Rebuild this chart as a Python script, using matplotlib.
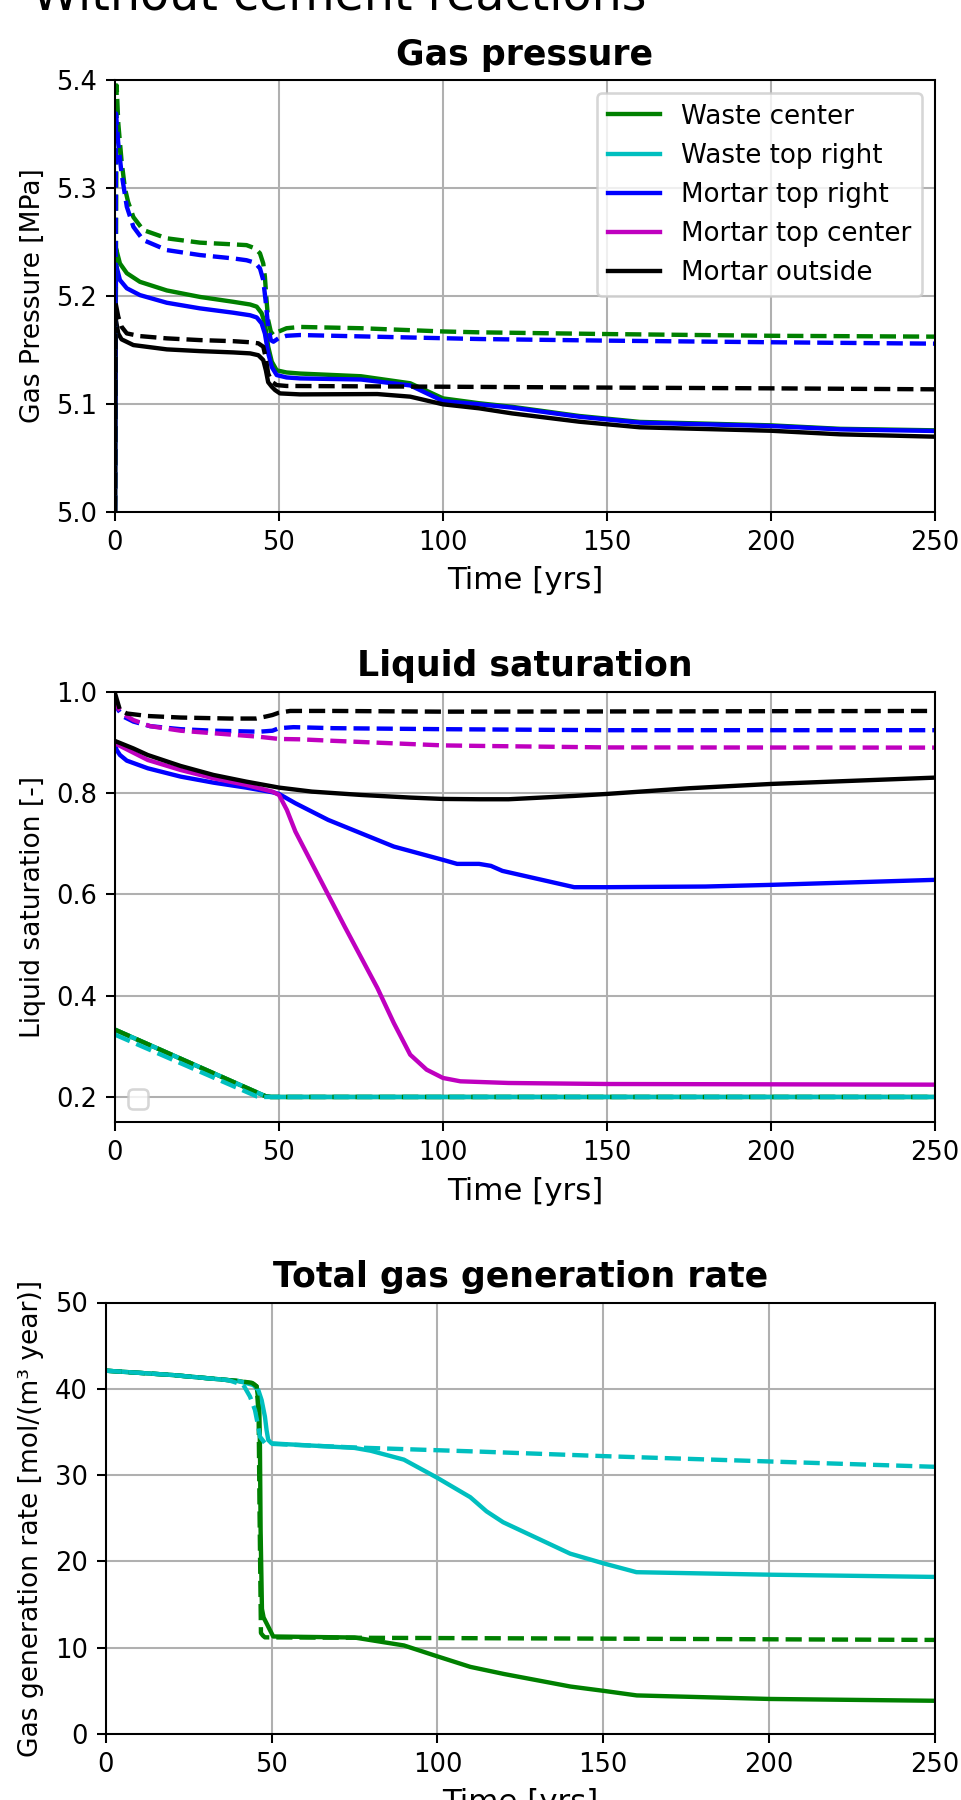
import matplotlib
matplotlib.use('Agg')
from matplotlib import pyplot as plt

# ---- Gas pressure [MPa] (solid = reference case, dashed = second case) ----
t_p_wc = [0, 0.3, 1.5, 3.6, 7.6, 15.8, 25.9, 36, 41.2, 43.2, 44.7, 45.7, 46.7, 47.8, 49.3,
          52.3, 56.4, 75, 90, 100, 111, 121, 141.5, 160, 200, 221, 250]
p_wc = [5.0, 5.244, 5.230, 5.221, 5.213, 5.205, 5.199, 5.1945, 5.192, 5.19, 5.184, 5.1745, 5.153,
        5.139, 5.131, 5.129, 5.128, 5.1255, 5.119, 5.105, 5.1005, 5.0972, 5.0887, 5.0832, 5.0800,
        5.0768, 5.0754]
t_p_mtr = t_p_wc
p_mtr = [5.0, 5.229, 5.2147, 5.207, 5.2007, 5.1936, 5.1884, 5.1844, 5.182, 5.18, 5.1745, 5.165,
         5.147, 5.134, 5.1266, 5.1244, 5.1235, 5.1225, 5.117, 5.1025, 5.0995, 5.0965, 5.088, 5.0825,
         5.0794, 5.0763, 5.0748]
t_p_mo = [0, 0.1, 1, 2, 5.6, 15.8, 25.9, 36, 41.2, 43.7, 45.2, 46, 46.7, 47.8, 48.8, 50.3, 56.4,
          80, 90, 100, 111, 121, 141.5, 160, 200, 221, 250]
p_mo = [5.0, 5.1806, 5.165, 5.1597, 5.1544, 5.1504, 5.1488, 5.1476, 5.1467, 5.145, 5.1405, 5.131,
        5.120, 5.1158, 5.1127, 5.1096, 5.1087, 5.109, 5.1066, 5.0995, 5.0958, 5.0911, 5.0834,
        5.0782, 5.075, 5.0717, 5.0695]

t_p_wc2 = [0, 0.5, 1, 2, 3, 4, 5.6, 8.6, 15.8, 25.9, 36, 40.1, 42.7, 44.2, 45.2, 45.7, 46.2, 46.7,
           47.5, 48.3, 49.8, 52.3, 56.4, 75, 100, 111, 150, 200, 250]
p_wc2 = [5.0, 5.395, 5.36, 5.325, 5.30, 5.287, 5.273, 5.261, 5.2533, 5.2493, 5.2477, 5.247, 5.244,
         5.2394, 5.230, 5.2177, 5.196, 5.1776, 5.1668, 5.1637, 5.1668, 5.17, 5.1712, 5.170, 5.167,
         5.1662, 5.1646, 5.163, 5.1622]
t_p_mtr2 = [0, 0.3, 1, 2, 3.6, 5.6, 8.6, 15.8, 25.9, 36, 40.1, 42.7, 44.2, 45.2, 45.9, 46.7, 47.5,
            48.3, 49.8, 52.3, 56.4, 111, 150, 200, 250]
p_mtr2 = [5.0, 5.369, 5.341, 5.3135, 5.2826, 5.264, 5.2517, 5.2424, 5.2378, 5.2347, 5.233, 5.2307,
          5.2254, 5.2146, 5.196, 5.1714, 5.159, 5.1575, 5.1606, 5.163, 5.1637, 5.160, 5.1585, 5.157,
          5.1557]
t_p_mo2 = [0, 0.2, 1, 2, 3.6, 7.6, 15.8, 25.9, 36, 41.2, 43.7, 45.2, 45.9, 46.7, 47.8, 49.3, 52.3,
           100, 150, 200, 250]
p_mo2 = [5.0, 5.193, 5.1806, 5.1714, 5.1652, 5.1627, 5.1606, 5.159, 5.158, 5.157, 5.156, 5.1529,
         5.1436, 5.128, 5.1204, 5.1173, 5.1165, 5.1158, 5.115, 5.1143, 5.1134]

# ---- Liquid saturation [-] ----
t_s_w = [0, 46, 47.5, 250]
s_w = [0.3328, 0.2012, 0.2, 0.2]
t_s_wtr2 = [0, 43.2, 45.2, 250]
s_wtr2 = [0.323, 0.2012, 0.2, 0.2]

t_s_mtr = [0, 0.5, 1.5, 3.6, 10, 20, 30, 40, 48, 50, 55, 65, 75, 85, 100, 104.3, 111, 114.6,
           118.1, 140, 150, 180, 200, 250]
s_mtr = [0.8948, 0.885, 0.8751, 0.8639, 0.8488, 0.8324, 0.8205, 0.8107, 0.8015, 0.7982, 0.7798,
         0.7469, 0.7206, 0.6943, 0.668, 0.6601, 0.6601, 0.6562, 0.6463, 0.6141, 0.6141, 0.6154,
         0.6187, 0.6286]
t_s_mtc = [0, 10, 20, 30, 40, 48, 50, 52.4, 55, 60, 70, 80, 85, 90, 95, 100, 105.3, 120, 150, 250]
s_mtc = [0.898, 0.8652, 0.8455, 0.8291, 0.8159, 0.8028, 0.7962, 0.7666, 0.7239, 0.6615, 0.5366,
         0.415, 0.346, 0.2835, 0.2539, 0.2375, 0.2309, 0.2276, 0.2256, 0.2243]
t_s_mo = [0, 5.6, 10, 20, 30, 40, 50, 60, 75, 90, 100, 111, 120, 140, 150, 175, 200, 250]
s_mo = [0.9027, 0.888, 0.875, 0.8534, 0.8357, 0.8225, 0.8107, 0.8028, 0.7962, 0.791, 0.7883,
        0.7877, 0.7877, 0.7943, 0.7982, 0.8094, 0.8179, 0.8304]

t_s_mtr2 = [0, 1, 2.5, 5.6, 10.7, 20, 30, 44, 48, 50, 54.4, 66.6, 100, 150, 250]
s_mtr2 = [0.990, 0.964, 0.951, 0.941, 0.932, 0.926, 0.923, 0.921, 0.923, 0.928, 0.930, 0.928,
          0.926, 0.924, 0.924]
t_s_mtc2 = [0, 1, 3, 5.6, 10.7, 20, 30, 44, 50, 56.5, 66.6, 100, 111, 150, 250]
s_mtc2 = [0.993, 0.967, 0.954, 0.944, 0.932, 0.923, 0.918, 0.911, 0.9067, 0.906, 0.903, 0.894,
          0.893, 0.890, 0.8896]
t_s_mo2 = [0, 1.5, 3.6, 10, 20, 35, 43, 46, 48, 50, 53.4, 66.6, 100, 150, 250]
s_mo2 = [0.9967, 0.964, 0.957, 0.952, 0.949, 0.947, 0.947, 0.951, 0.954, 0.9586, 0.962, 0.962,
         0.9606, 0.961, 0.962]

# ---- Total gas generation rate [mol/(m3 year)] ----
t_g_wc = [0, 20, 40, 44.5, 45.5, 46.3, 46.5, 46.7, 47.1, 47.6, 50.5, 75, 89.9, 99.8, 109.9, 120.1,
          140.1, 150.1, 160.1, 200.2, 250]
g_wc = [42.1, 41.6, 40.9, 40.6, 40.25, 37.9, 33.3, 23.6, 14.5, 13.5, 11.3, 11.18, 10.26, 9.02,
        7.78, 6.95, 5.5, 5.0, 4.47, 4.06, 3.85]
t_g_wtr = [0, 20, 40, 44.5, 46, 47, 48, 48.5, 49, 50, 53.5, 64.6, 75, 79.9, 89.9, 99.8, 109.9,
           114.8, 119.8, 140, 150, 160, 200, 250]
g_wtr = [42.1, 41.6, 40.9, 40.44, 39.86, 38.7, 36.77, 35.2, 34.07, 33.68, 33.6, 33.37, 33.15,
         32.82, 31.79, 29.72, 27.44, 25.8, 24.54, 20.9, 19.78, 18.75, 18.46, 18.2]
t_g_wc2 = [0, 20, 40, 44, 45.5, 46.1, 46.4, 46.8, 47.4, 48, 75, 150, 250]
g_wc2 = [42.1, 41.6, 40.9, 40.7, 40.3, 37, 25, 11.7, 11.4, 11.2, 11.15, 11.05, 10.9]
t_g_wtr2 = [0, 20, 37, 41.5, 43.5, 45, 46, 46.5, 48, 50, 75, 112.8, 150, 200, 250]
g_wtr2 = [42.1, 41.6, 41.0, 40.44, 39.1, 37.54, 35.6, 34.45, 33.7, 33.62, 33.2, 32.72, 32.2,
          31.58, 30.96]

time_ticks = [0, 50, 100, 150, 200, 250]

dpi = 185
plt.rcParams['lines.linewidth'] = 1.7
plt.rcParams['axes.labelsize'] = 10.3
fig = plt.figure(figsize=(961 / dpi, 1800 / dpi), dpi=dpi)

fig.text(32 / 961, 1 - 9 / 1800, 'Without cement reactions', fontsize=18.5,
         ha='left', va='baseline')

# gas pressure
ax1 = fig.add_axes([115 / 961, 1 - 511.7 / 1800, 820 / 961, 431.7 / 1800])
ax1.plot(t_p_wc, p_wc, 'g-', label='Waste center')
ax1.plot([], [], 'c-', label='Waste top right')
ax1.plot(t_p_mtr, p_mtr, 'b-', label='Mortar top right')
ax1.plot([], [], 'm-', label='Mortar top center')
ax1.plot(t_p_mo, p_mo, 'k-', label='Mortar outside')
ax1.plot(t_p_wc2, p_wc2, 'g--')
ax1.plot(t_p_mtr2, p_mtr2, 'b--')
ax1.plot(t_p_mo2, p_mo2, 'k--')
ax1.set_xlim(0, 250)
ax1.set_ylim(5.0, 5.4)
ax1.set_xticks(time_ticks)
ax1.set_yticks([5.0, 5.1, 5.2, 5.3, 5.4])
ax1.set_title('Gas pressure', fontsize=13.5, fontweight='bold')
ax1.set_xlabel('Time [yrs]', fontsize=12)
ax1.set_ylabel('Gas Pressure [MPa]')
ax1.legend(loc='upper right', fontsize=10.2)
ax1.grid(True)

# liquid saturation
ax2 = fig.add_axes([115 / 961, 1 - 1122.3 / 1800, 820 / 961, 430.6 / 1800])
ax2.plot(t_s_w, s_w, 'g-')
ax2.plot(t_s_w, s_w, 'c-')
ax2.plot(t_s_mtr, s_mtr, 'b-')
ax2.plot(t_s_mtc, s_mtc, 'm-')
ax2.plot(t_s_mo, s_mo, 'k-')
ax2.plot(t_s_w, s_w, 'g--')
ax2.plot(t_s_wtr2, s_wtr2, 'c--')
ax2.plot(t_s_mtr2, s_mtr2, 'b--')
ax2.plot(t_s_mtc2, s_mtc2, 'm--')
ax2.plot(t_s_mo2, s_mo2, 'k--')
ax2.set_xlim(0, 250)
ax2.set_ylim(0.15, 1.0)
ax2.set_xticks(time_ticks)
ax2.set_yticks([0.2, 0.4, 0.6, 0.8, 1.0])
ax2.set_title('Liquid saturation', fontsize=13.5, fontweight='bold')
ax2.set_xlabel('Time [yrs]', fontsize=12)
ax2.set_ylabel('Liquid saturation [-]')
ax2.legend(handles=[], loc='lower left')
ax2.grid(True)

# gas generation
ax3 = fig.add_axes([105.7 / 961, 1 - 1734 / 1800, 829.3 / 961, 431.5 / 1800])
ax3.plot(t_g_wc, g_wc, 'g-')
ax3.plot(t_g_wtr, g_wtr, 'c-')
ax3.plot(t_g_wc2, g_wc2, 'g--')
ax3.plot(t_g_wtr2, g_wtr2, 'c--')
ax3.set_xlim(0, 250)
ax3.set_ylim(0, 50)
ax3.set_xticks(time_ticks)
ax3.set_yticks([0, 10, 20, 30, 40, 50])
ax3.set_title('Total gas generation rate', fontsize=13.5, fontweight='bold')
ax3.set_xlabel('Time [yrs]', fontsize=12)
ax3.set_ylabel('Gas generation rate [mol/(m³ year)]')
ax3.grid(True)

plt.savefig('out.png', dpi=dpi)
